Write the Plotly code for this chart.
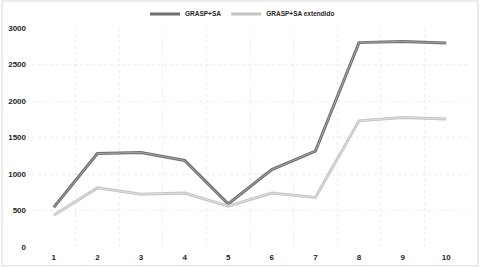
import plotly.graph_objects as go

categories = [1, 2, 3, 4, 5, 6, 7, 8, 9, 10]
tick_labels = ["1", "2", "3", "4", "5", "6", "7", "8", "9", "10"]
grasp_sa = [545, 1280, 1295, 1185, 590, 1060, 1315, 2800, 2815, 2795]
grasp_sa_ext = [435, 810, 722, 740, 560, 740, 678, 1728, 1775, 1752]
y_ticks = [0, 500, 1000, 1500, 2000, 2500, 3000]

font_b = dict(family="Liberation Sans", size=8, color="#262626", weight="bold")
font_leg = dict(family="Liberation Sans", size=6.5, color="#262626", weight="bold")

fig = go.Figure()
# series 1: outline + inner highlight
fig.add_trace(go.Scatter(x=categories, y=grasp_sa, mode="lines", name="GRASP+SA",
                         line=dict(color="#707070", width=3.0), legendgroup="a"))
fig.add_trace(go.Scatter(x=categories, y=grasp_sa, mode="lines", showlegend=False,
                         line=dict(color="#a4a4a4", width=1.0), legendgroup="a", hoverinfo="skip"))
# series 2
fig.add_trace(go.Scatter(x=categories, y=grasp_sa_ext, mode="lines", name="GRASP+SA extendido",
                         line=dict(color="#c4c4c4", width=3.0), legendgroup="b"))
fig.add_trace(go.Scatter(x=categories, y=grasp_sa_ext, mode="lines", showlegend=False,
                         line=dict(color="#e0e0e0", width=1.0), legendgroup="b", hoverinfo="skip"))

grid_x = [c - 0.5 for c in categories] + [categories[-1] + 0.5]

fig.update_layout(
    width=485, height=267,
    margin=dict(l=32, r=17, t=28, b=20, autoexpand=False),
    paper_bgcolor="white", plot_bgcolor="white",
    showlegend=True,
    legend=dict(orientation="h", xref="container", yref="container",
                x=0.5, xanchor="center", y=0.948, yanchor="middle",
                font=font_leg, bgcolor="rgba(0,0,0,0)", itemwidth=30, traceorder="normal"),
    xaxis=dict(range=[0.5, 10.5], tickvals=categories, ticktext=tick_labels,
               showgrid=False, zeroline=False, showline=False, ticks="", automargin=False,
               tickfont=font_b, ticklabelstandoff=4,
               minor=dict(tickvals=grid_x, showgrid=True, gridcolor="#eeeeee",
                          griddash="dot", gridwidth=1, ticks="")),
    yaxis=dict(range=[0, 3000], tickvals=y_ticks, showgrid=True, gridcolor="#eeeeee",
               griddash="dot", gridwidth=1, zeroline=False, showline=False, ticks="",
               automargin=False, tickfont=font_b, ticklabelstandoff=5),
    shapes=[dict(type="rect", xref="paper", yref="paper",
                 x0=-0.0688, x1=1.0229, y0=-0.086, y1=1.1235,
                 line=dict(color="#d9d9d9", width=1), layer="below")],
)

fig.write_html("out.html")
